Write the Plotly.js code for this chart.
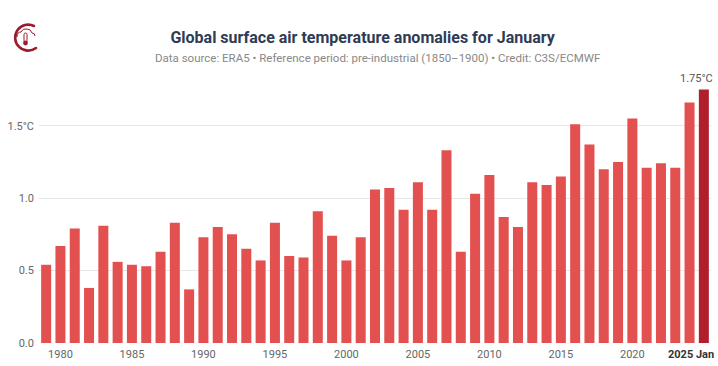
<!DOCTYPE html>
<html>
<head>
<meta charset="utf-8">
<script src="https://cdn.plot.ly/plotly-3.0.1.min.js"></script>
<style>
html,body{margin:0;padding:0;background:#fff;}
#chart{width:718px;height:366px;position:relative;}
#logo{position:absolute;left:8px;top:20px;width:34px;height:34px;z-index:10;}
</style>
</head>
<body>
<div id="chart"></div>
<svg id="logo" viewBox="0 0 34 34">
  <path d="M26 6 A13 13 0 1 0 28 28" fill="none" stroke="#9b1c2e" stroke-width="2.6" stroke-linecap="round"/>
  <path d="M9 17 Q9 12 13 12 Q15 8 19 9 Q23 9 24 13 Q27 13 27 16" fill="none" stroke="#9b1c2e" stroke-width="1"/>
  <rect x="16" y="13" width="3" height="9" rx="1.5" fill="none" stroke="#9b1c2e" stroke-width="1"/>
  <circle cx="17.5" cy="23" r="2.4" fill="#9b1c2e"/>
</svg>
<script>
const years = [1979,1980,1981,1982,1983,1984,1985,1986,1987,1988,1989,1990,1991,1992,1993,1994,1995,1996,1997,1998,1999,2000,2001,2002,2003,2004,2005,2006,2007,2008,2009,2010,2011,2012,2013,2014,2015,2016,2017,2018,2019,2020,2021,2022,2023,2024,2025];
const anomalies = [0.54,0.67,0.79,0.38,0.81,0.56,0.54,0.53,0.63,0.83,0.37,0.73,0.80,0.75,0.65,0.57,0.83,0.60,0.59,0.91,0.74,0.57,0.73,1.06,1.07,0.92,1.11,0.92,1.33,0.63,1.03,1.16,0.87,0.80,1.11,1.09,1.15,1.51,1.37,1.20,1.25,1.55,1.21,1.24,1.21,1.66,1.75];
const xTickVals = [1980,1985,1990,1995,2000,2005,2010,2015,2020];
const xTickText = ['1980','1985','1990','1995','2000','2005','2010','2015','2020'];
const yTickVals = [0,0.5,1.0,1.5];
const yTickText = ['0.0','0.5','1.0','1.5°C'];
const lastLabel = '1.75°C';
const lastTick = '2025 Jan';

const FONT = 'Roboto, "Noto Sans", sans-serif';
const colors = years.map((y,i)=> i===years.length-1 ? '#b11f2c' : '#e35050');

const trace = {
  type:'bar', x:years, y:anomalies,
  marker:{color:colors},
  hoverinfo:'x+y'
};
const n = years.length;
const layout = {
  width:718, height:366,
  margin:{l:39,r:7,t:75,b:23},
  paper_bgcolor:'#fff', plot_bgcolor:'#fff',
  bargap:0.3,
  showlegend:false,
  font:{family:FONT, color:'#666', size:11},
  title:{text:'<b>Global surface air temperature anomalies for January</b>', x:0.505, xanchor:'center', y:0.899, yanchor:'middle', font:{family:FONT, size:16, color:'#2f3b55'}},
  xaxis:{range:[1978.5,2025.5], tickvals:xTickVals, ticktext:xTickText, showgrid:false, zeroline:false, showline:false, ticks:'', tickfont:{size:11,color:'#666'}, ticklabelstandoff:3},
  yaxis:{range:[0,1.85], tickvals:yTickVals, ticktext:yTickText, showgrid:true, gridcolor:'#e8e8e8', gridwidth:1, zeroline:false, showline:false, ticks:'', tickfont:{size:11,color:'#666'}, ticklabelstandoff:4},
  annotations:[
    {xref:'paper', yref:'paper', x:0.505, y:1.0, yshift:17, xanchor:'center', yanchor:'middle', showarrow:false,
     text:'Data source: ERA5 • Reference period: pre-industrial (1850–1900) • Credit: C3S/ECMWF', font:{family:FONT,size:11.5,color:'#888'}},
    {xref:'paper', x:1, y:anomalies[n-1], yanchor:'bottom', xanchor:'right', yshift:2, xshift:4, showarrow:false, text:lastLabel, font:{family:FONT,size:11,color:'#555'}},
    {xref:'paper', x:1, y:0, yref:'y', yanchor:'top', xanchor:'right', yshift:-3, xshift:5, showarrow:false, text:'<b>'+lastTick+'</b>', font:{family:FONT,size:11,color:'#333'}}
  ]
};
Plotly.newPlot('chart',[trace],layout,{displayModeBar:false, staticPlot:true});
</script>
</body>
</html>
